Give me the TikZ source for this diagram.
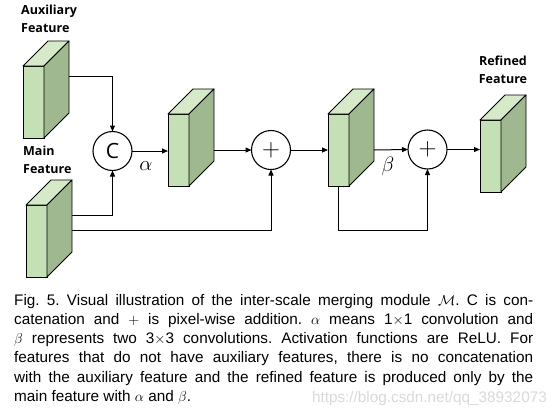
\documentclass[tikz,border=0pt]{standalone}
\usepackage{fontspec}
\setmainfont{Liberation Sans}
\newfontfamily\labelfont{Open Sans}
\usetikzlibrary{calc,arrows.meta}
\definecolor{frontc}{HTML}{C5E0B4}
\definecolor{topc}{HTML}{D6E9C9}
\definecolor{sidec}{HTML}{A0B890}
\definecolor{wmark}{HTML}{D9D9D9}
\tikzset{
  front/.style={draw=black, fill=frontc, line width=0.9pt, minimum width=21pt, minimum height=72pt, inner sep=0pt, outer sep=0pt},
  face/.style={draw=black, line width=0.9pt, line join=round},
  opc/.style={circle, draw=black, line width=1.1pt, minimum size=39pt, inner sep=0pt, outer sep=0pt},
  conn/.style={draw=black, line width=1pt, -{Triangle[length=6pt,width=5pt]}},
  lbl/.style={font=\labelfont\bfseries\fontsize{12.5}{18}\selectfont, align=left, inner sep=0pt},
}
\newcommand\featblock[3]{%
  \node[front, anchor=north west] (#1) at (#2,#3) {};
  \filldraw[face, fill=topc] (#1.north west) -- ++(25,-25) -- ++(21,0) -- (#1.north east) -- cycle;
  \filldraw[face, fill=sidec] (#1.north east) -- ++(25,-25) -- ++(0,72) -- (#1.south east) -- cycle;
}
\begin{document}
\begin{tikzpicture}[x=1pt, y=-1pt]
\useasboundingbox (0,0) rectangle (549,413);
% blocks
\featblock{aux}{23}{66}
\featblock{main}{26}{205}
\featblock{b2}{168}{114}
\featblock{b3}{328}{114}
\featblock{b4}{480}{120}
% operators
\node[opc, font=\labelfont\fontsize{21}{21}\selectfont] (C) at (112.5,151) {C};
\node[opc, font=\fontsize{24}{24}\selectfont] (P1) at (271,150) {$+$};
\node[opc, font=\fontsize{24}{24}\selectfont] (P2) at (427.5,149.5) {$+$};
% labels
\node[lbl, anchor=north west] (auxl) at (21,5) {Auxiliary\\Feature};
\node[lbl, anchor=north west] (mainl) at (23,146) {Main\\Feature};
\node[lbl, anchor=north, align=center] (refl) at (503,56) {Refined\\Feature};
\node[font=\fontsize{22}{24}\selectfont] (al) at (146,166) {$\alpha$};
\node[font=\fontsize{22}{24}\selectfont] (bl) at (388,166) {$\beta$};
% connectors
\draw[conn] ($(aux.north east)+(25,10)$) -| (C.north);
\draw[conn] ($(main.north east)+(25,10)$) -| (C.south);
\draw[conn] ($(main.north east)+(25,25)$) -| (P1.south);
\draw[conn] (C.east) -- (C.east -| b2.west);
\draw[conn] ($(b2.east)+(25,0)$) -- (P1.west);
\draw[conn] (P1.east) -- (P1.east -| b3.west);
\draw[conn] ($(b3.east)+(25,0)$) -- (P2.west);
\draw[conn] (P2.east) -- (P2.east -| b4.west);
\draw[conn] (b3.south) -- ++(0,44) -| (P2.south);
% caption
\node[anchor=north west, inner sep=0pt, text width=519pt, align=justify,
      font=\fontsize{15.3}{19.2}\selectfont\frenchspacing] (cap) at (14,294) {%
Fig. 5. Visual illustration of the inter-scale merging module $\mathcal{M}$. C is con-\linebreak
catenation and $+$ is pixel-wise addition. $\alpha$ means 1$\times$1 convolution and\linebreak
$\beta$ represents two 3$\times$3 convolutions. Activation functions are ReLU. For\linebreak
features that do not have auxiliary features, there is no concatenation\linebreak
with the auxiliary feature and the refined feature is produced only by the\linebreak
main feature with $\alpha$ and $\beta$.};
\node[anchor=base east, inner sep=0pt, text=wmark, font=\fontsize{15.3}{16}\selectfont] (wm) at (547,402) {https://blog.csdn.net/qq\_38932073};
\end{tikzpicture}
\end{document}
